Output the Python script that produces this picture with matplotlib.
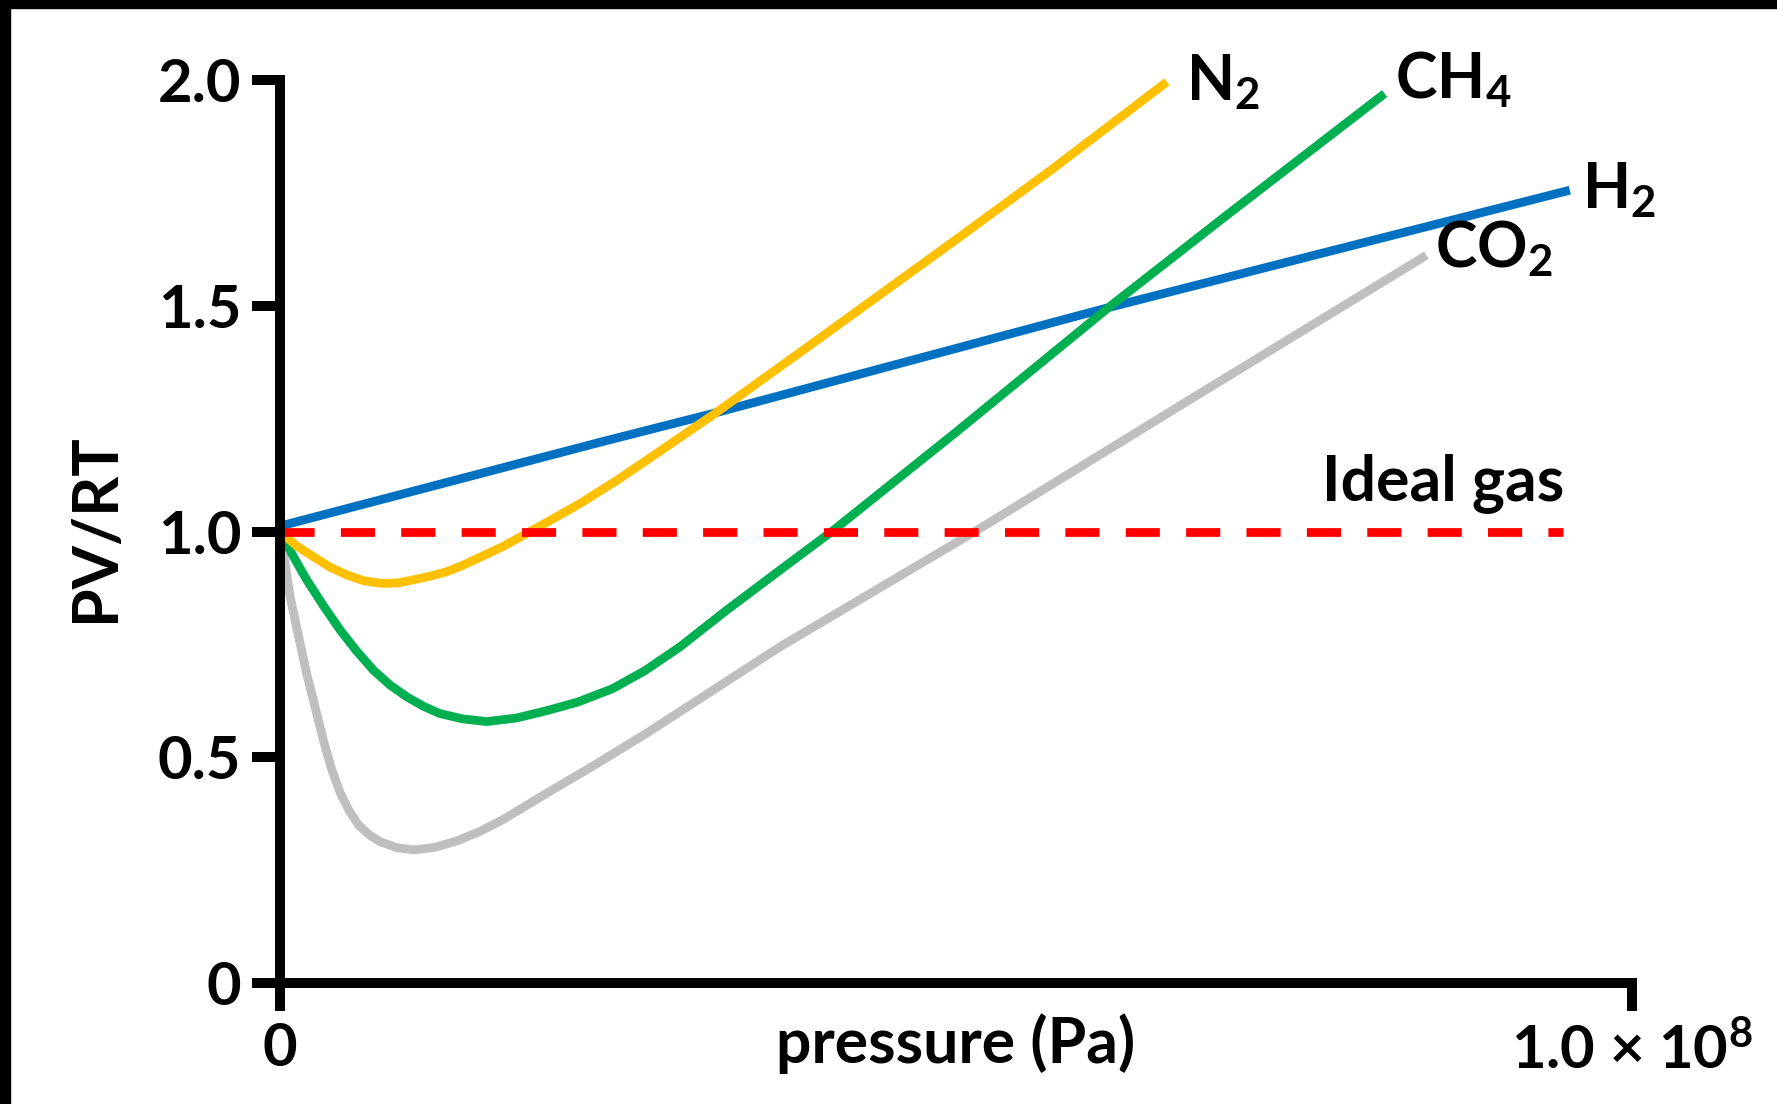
import matplotlib.pyplot as plt
from matplotlib.patches import Rectangle

plt.rcParams['font.family'] = ['Lato', 'DejaVu Sans']
plt.rcParams['font.weight'] = 'bold'
plt.rcParams['mathtext.default'] = 'regular'

# pressure in units of 1e8 Pa, compressibility PV/RT
h2_p = [0, 0.237, 0.321, 0.614, 0.954]
h2_z = [1.012, 1.198, 1.262, 1.497, 1.756]

n2_p = [0, 0.0123, 0.0247, 0.037, 0.0493, 0.062, 0.0752, 0.087, 0.0986, 0.111, 0.1233, 0.135,
        0.1479, 0.165, 0.1825, 0.20, 0.2219, 0.25, 0.28, 0.321, 0.40, 0.497, 0.57, 0.656]
n2_z = [1.0, 0.968, 0.944, 0.921, 0.904, 0.891, 0.885, 0.886, 0.893, 0.901, 0.911, 0.925,
        0.943, 0.967, 0.996, 1.025, 1.062, 1.115, 1.176, 1.26, 1.43, 1.64, 1.80, 1.996]

ch4_p = [0, 0.0098, 0.0197, 0.032, 0.0444, 0.0567, 0.069, 0.0813, 0.0937, 0.106, 0.118, 0.135,
         0.153, 0.175, 0.197, 0.22, 0.246, 0.27, 0.296, 0.33, 0.37, 0.409, 0.50, 0.614, 0.70, 0.817]
ch4_z = [1.0, 0.945, 0.893, 0.836, 0.782, 0.735, 0.693, 0.660, 0.634, 0.613, 0.597, 0.585,
         0.579, 0.587, 0.603, 0.622, 0.652, 0.692, 0.745, 0.825, 0.915, 1.002, 1.22, 1.499, 1.70, 1.97]

co2_p = [0, 0.0037, 0.0074, 0.0135, 0.0197, 0.026, 0.032, 0.038, 0.0444, 0.051, 0.058, 0.066,
         0.074, 0.086, 0.0988, 0.114, 0.131, 0.148, 0.165, 0.197, 0.23, 0.271, 0.32, 0.37,
         0.514, 0.68, 0.848]
co2_z = [1.0, 0.93, 0.856, 0.77, 0.685, 0.61, 0.538, 0.475, 0.422, 0.382, 0.350, 0.328,
         0.313, 0.300, 0.295, 0.300, 0.315, 0.336, 0.362, 0.420, 0.478, 0.553, 0.648, 0.745,
         1.0, 1.305, 1.612]

ideal_p = [0, 0.949]
ideal_z = [1.0, 1.0]

fig = plt.figure(figsize=(17.77, 11.04), dpi=100)
ax = fig.add_axes([0.1576, 0.1096, 0.7608, 0.8179])

lw = 6.3
style = dict(lw=lw, clip_on=False, solid_capstyle='butt', solid_joinstyle='round')
ax.plot(co2_p, co2_z, color='#BFBFBF', **style)
ax.plot(h2_p, h2_z, color='#0070C0', **style)
ax.plot(ch4_p, ch4_z, color='#00B050', **style)
ax.plot(n2_p, n2_z, color='#FFC000', **style)
ax.plot(ideal_p, ideal_z, color='#FF0000', lw=lw, dashes=(3.9, 3.0), dash_capstyle='butt', clip_on=False)

fs = 45
ax.text(0.670, 1.956, '$\\mathregular{N_2}$', fontsize=fs, fontweight='bold', ha='left', va='baseline')
ax.text(0.825, 1.960, '$\\mathregular{CH_4}$', fontsize=fs, fontweight='bold', ha='left', va='baseline')
ax.text(0.963, 1.716, '$\\mathregular{H_2}$', fontsize=fs, fontweight='bold', ha='left', va='baseline')
ax.text(0.854, 1.586, '$\\mathregular{CO_2}$', fontsize=fs, fontweight='bold', ha='left', va='baseline')
ax.text(0.771, 1.070, 'Ideal gas', fontsize=fs, fontweight='bold', ha='left', va='baseline')

ax.set_xlim(0, 1)
ax.set_ylim(0, 2)
ax.set_yticks([0, 0.5, 1.0, 1.5, 2.0], ['0', '0.5', '1.0', '1.5', '2.0'])
ax.set_xticks([0, 1], ['0', '1.0 × $\\mathregular{10^8}$'])
ax.tick_params(axis='both', direction='out', length=20, width=7.2, labelsize=43, pad=8)

for s in ['top', 'right']:
    ax.spines[s].set_visible(False)
for s in ['left', 'bottom']:
    ax.spines[s].set_linewidth(7.2)

ax.set_xlabel('pressure (Pa)', fontsize=fs, fontweight='bold')
ax.xaxis.set_label_coords(0.5, -0.033)
ax.set_ylabel('PV/RT', fontsize=fs, fontweight='bold')
ax.yaxis.set_label_coords(-0.115, 0.504)

# black frame strips along the top and left edges
fig.add_artist(Rectangle((0, 1 - 8 / 1104), 1, 8 / 1104, transform=fig.transFigure, color='black'))
fig.add_artist(Rectangle((0, 0), 10 / 1777, 1, transform=fig.transFigure, color='black'))

fig.savefig('out.png', dpi=100)
